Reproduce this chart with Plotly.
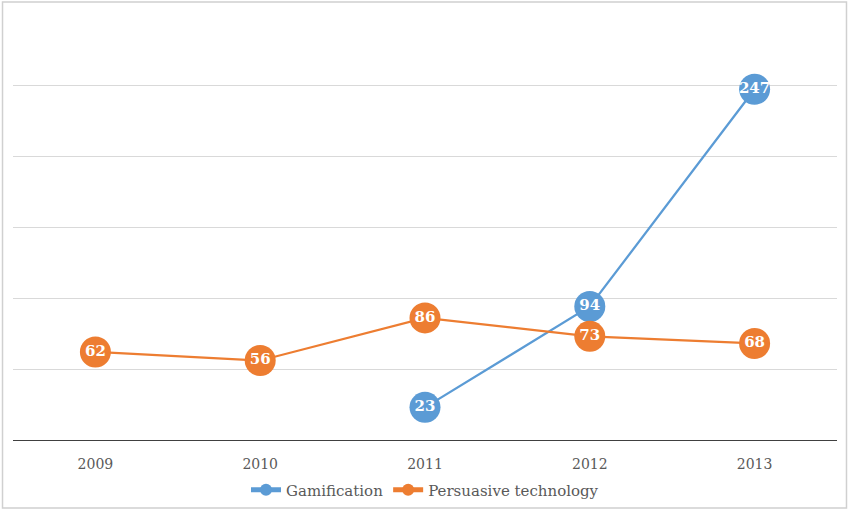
import plotly.graph_objects as go

years = ["2009", "2010", "2011", "2012", "2013"]
gamification = [None, None, 23, 94, 247]
persuasive = [62, 56, 86, 73, 68]
series_names = ["Gamification", "Persuasive technology"]
colors = ["#5B9BD5", "#ED7D31"]

W, H = 849, 510
ml, mr, mt, mb = 12.5, 11.5, 14, 70
pw, ph = W - ml - mr, H - mt - mb

def px_to_paper_x(px):
    return (px - ml) / pw

def px_to_paper_y(py):
    return (H - mb - py) / ph

fig = go.Figure()
for name, vals, col in [(series_names[0], gamification, colors[0]),
                        (series_names[1], persuasive, colors[1])]:
    fig.add_trace(go.Scatter(
        x=years, y=vals, name=name, mode="lines+markers+text",
        line=dict(color=col, width=2.25),
        marker=dict(color=col, size=31, line=dict(width=0)),
        text=[("" if v is None else str(v)) for v in vals],
        textposition="middle center",
        textfont=dict(family="DejaVu Serif", size=15, color="white", weight="bold"),
        connectgaps=False,
        cliponaxis=False,
    ))

fig.update_layout(
    width=W, height=H,
    margin=dict(l=ml, r=mr, t=mt, b=mb, autoexpand=False),
    paper_bgcolor="white", plot_bgcolor="white",
    font=dict(family="DejaVu Serif", color="#595959"),
    showlegend=True,
    legend=dict(orientation="h", x=0.5, xanchor="center",
                y=px_to_paper_y(490), yanchor="middle",
                font=dict(family="DejaVu Serif", size=15, color="#595959"),
                itemsizing="constant", itemwidth=30, bgcolor="rgba(0,0,0,0)"),
    xaxis=dict(type="category", range=[-0.5, 4.5], showgrid=False,
               showline=True, linecolor="#404040", linewidth=1.3,
               ticks="", ticklabelstandoff=11,
               tickfont=dict(family="DejaVu Serif", size=14, color="#595959"),
               fixedrange=True),
    yaxis=dict(range=[0, 300], dtick=50, showgrid=True, gridcolor="#d9d9d9",
               gridwidth=1, zeroline=False, showticklabels=False, ticks="",
               fixedrange=True),
    shapes=[dict(type="rect", xref="paper", yref="paper",
                 x0=px_to_paper_x(2), x1=px_to_paper_x(847),
                 y0=px_to_paper_y(508), y1=px_to_paper_y(2),
                 line=dict(color="#d0d0d0", width=1.5), fillcolor="rgba(0,0,0,0)",
                 layer="below")],
)

fig.write_html("out.html")
